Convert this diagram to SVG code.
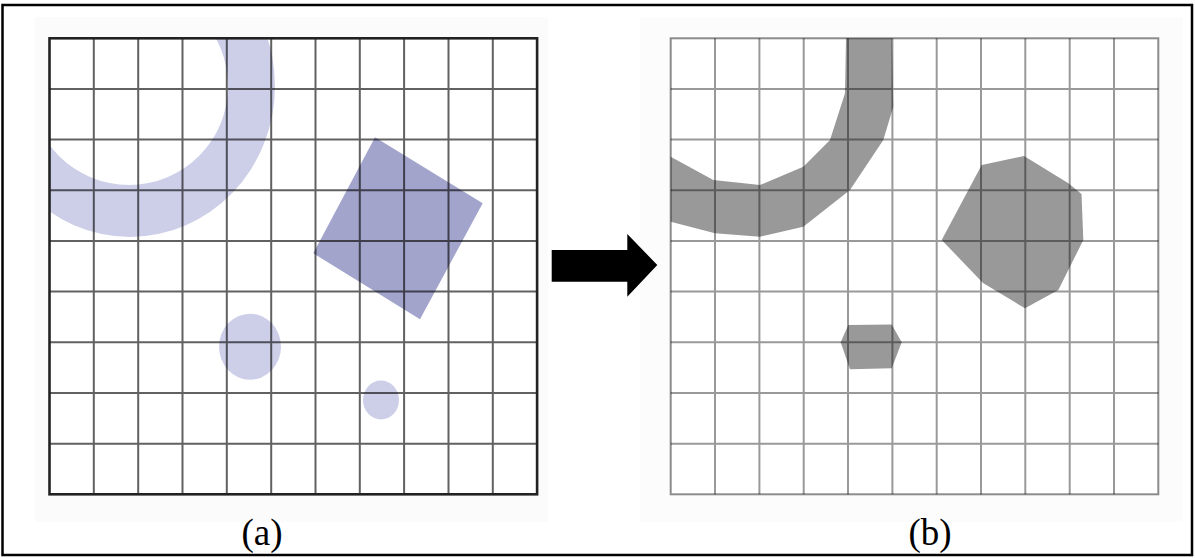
<svg xmlns="http://www.w3.org/2000/svg" width="1195" height="558" viewBox="0 0 1195 558">
  <style>
    .lav { fill: #cdcfe9; }
    .sq { fill: #a2a4cb; }
    .gry { fill: #999999; }
    .gridA { stroke: #000; stroke-opacity: 0.62; stroke-width: 2; fill: none; }
    .gridB { stroke: #000; stroke-opacity: 0.4; stroke-width: 2; fill: none; }
    .lbl { font-family: "Liberation Serif", "Times New Roman", serif; font-size: 37px; fill: #000; text-anchor: middle; }
  </style>
  <defs>
    <clipPath id="clipA"><rect x="49.5" y="38.3" width="487.6" height="456"/></clipPath>
  </defs>
  <rect x="0" y="0" width="1195" height="558" fill="#ffffff"/>
  <rect x="2.5" y="5" width="1189.5" height="550" fill="none" stroke="#000" stroke-width="2.5"/>
  <rect x="35" y="17" width="513" height="505" fill="#fbfbfb"/>
  <rect x="640" y="17" width="543" height="505" fill="#fcfcfc"/>

  <g id="panel-a">
    <rect x="49.5" y="38.3" width="487.6" height="456" fill="#ffffff"/>
    <g id="shapes-a" clip-path="url(#clipA)">
      <path class="lav" fill-rule="evenodd" d="M -15 86 A 145 151 0 1 0 275 86 A 145 151 0 1 0 -15 86 Z M 30 86 A 99 99 0 1 0 228 86 A 99 99 0 1 0 30 86 Z"/>
      <polygon class="sq" points="375,137.3 482.7,203.3 420,319.3 313.3,253.3"/>
      <ellipse class="lav" cx="250" cy="346.7" rx="31" ry="33"/>
      <ellipse class="lav" cx="381" cy="400" rx="18" ry="19.5"/>
    </g>
    <path class="gridA" d="M93.8 38.3V494.3M138.2 38.3V494.3M182.5 38.3V494.3M226.8 38.3V494.3M271.2 38.3V494.3M315.5 38.3V494.3M359.8 38.3V494.3M404.1 38.3V494.3M448.5 38.3V494.3M492.8 38.3V494.3M49.5 89H537.1M49.5 139.6H537.1M49.5 190.3H537.1M49.5 241H537.1M49.5 291.6H537.1M49.5 342.3H537.1M49.5 393H537.1M49.5 443.7H537.1"/>
    <rect x="49.5" y="38.3" width="487.6" height="456" fill="none" stroke="#222" stroke-width="2.6"/>
  </g>

  <g id="arrow">
    <polygon points="551.7,250 627.3,250 627.3,234 657.3,265 627.3,296.7 627.3,281.7 551.7,281.7" fill="#000"/>
  </g>

  <g id="panel-b">
    <rect x="670.7" y="38.3" width="487.6" height="456" fill="#ffffff"/>
    <g id="shapes-b">
      <polygon class="gry" points="892,38.3 893.3,106.7 883.3,140 850,190 803.3,226.7 760,236.7 715,233.3 670.7,221.7 670.7,156.7 713.3,180 760,185 803.3,166.7 830,140 845,93.3 846,38.3"/>
      <polygon class="gry" points="981.7,165 1024,156 1068,183 1081.5,194 1083.3,240 1058.3,290 1025,308.3 983,283 941.7,240"/>
      <polygon class="gry" points="840.7,342.3 848.3,325 891.7,324.5 901.7,342.3 891.7,368.3 850,369.3"/>
    </g>
    <path class="gridB" d="M715 38.3V494.3M759.4 38.3V494.3M803.7 38.3V494.3M848 38.3V494.3M892.4 38.3V494.3M936.7 38.3V494.3M981 38.3V494.3M1025.3 38.3V494.3M1069.7 38.3V494.3M1114 38.3V494.3M670.7 89H1158.3M670.7 139.6H1158.3M670.7 190.3H1158.3M670.7 241H1158.3M670.7 291.6H1158.3M670.7 342.3H1158.3M670.7 393H1158.3M670.7 443.7H1158.3"/>
    <rect x="670.7" y="38.3" width="487.6" height="456" fill="none" stroke="#000" stroke-opacity="0.45" stroke-width="2"/>
  </g>

  <g id="labels">
    <text class="lbl" x="262" y="545">(a)</text>
    <text class="lbl" x="930" y="545">(b)</text>
  </g>
</svg>
